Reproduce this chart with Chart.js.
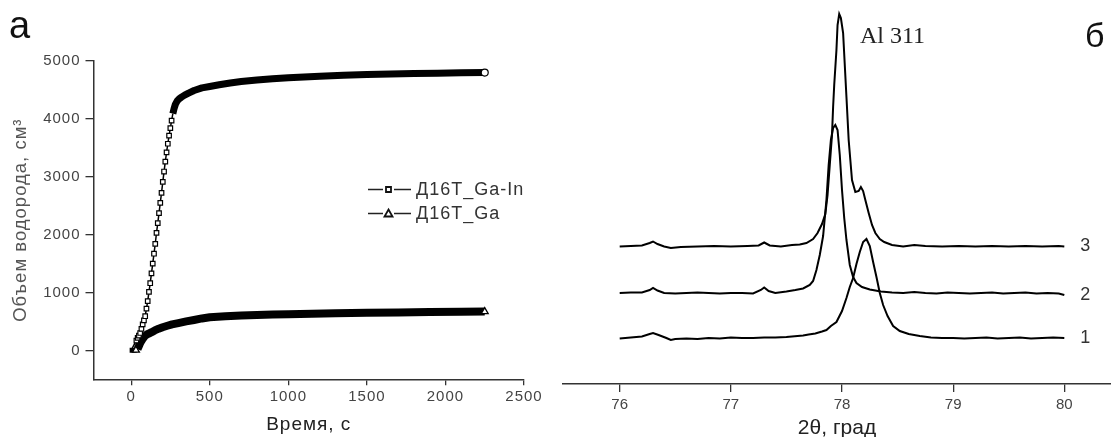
<!DOCTYPE html>
<html><head><meta charset="utf-8">
<script src="https://cdn.jsdelivr.net/npm/chart.js@4.4.1/dist/chart.umd.min.js"></script>
<style>
html,body{margin:0;padding:0;background:#fff;overflow:hidden}
#wrap{position:relative;width:1111px;height:437px;background:#fff}
#c1{position:absolute;left:0;top:0}
#c2{position:absolute;left:555px;top:0}
</style></head>
<body><div id="wrap"><canvas id="c1" width="555" height="437"></canvas><canvas id="c2" width="556" height="437"></canvas></div>
<script>
// ---------- Panel а : hydrogen volume vs time ----------
const seriesNames = ['Д16Т_Ga-In', 'Д16Т_Ga'];
const timeGaIn = [0, 8, 16, 25, 33, 41, 49, 57, 65, 73, 81, 89, 97, 105, 113, 121, 129, 137, 145, 153, 161, 169, 177, 185, 193, 201, 209, 217, 225, 233, 241, 249, 257, 265, 273, 281, 293, 305, 320, 340, 365, 400, 450, 500, 560, 630, 700, 800, 900, 1000, 1100, 1200, 1350, 1500, 1650, 1800, 1950, 2100, 2250];
const volGaIn  = [0, 45, 85, 130, 170, 215, 255, 300, 370, 450, 520, 590, 720, 850, 1010, 1160, 1330, 1500, 1670, 1840, 2030, 2200, 2370, 2550, 2720, 2910, 3090, 3260, 3420, 3570, 3710, 3840, 3970, 4090, 4180, 4250, 4310, 4345, 4375, 4410, 4445, 4490, 4535, 4560, 4590, 4620, 4645, 4670, 4692, 4710, 4725, 4738, 4752, 4765, 4775, 4783, 4790, 4796, 4800];
const timeGa = [-10, 0, 10, 20, 30, 40, 48, 56, 64, 72, 80, 90, 100, 115, 130, 150, 175, 200, 230, 260, 300, 350, 400, 450, 500, 600, 700, 800, 900, 1000, 1150, 1300, 1500, 1700, 1900, 2100, 2250];
const volGa  = [0, 0, 0, 0, 5, 20, 70, 120, 160, 195, 225, 255, 275, 295, 315, 345, 375, 400, 425, 448, 470, 500, 525, 552, 572, 590, 603, 613, 620, 626, 633, 640, 648, 655, 661, 666, 670];
const timeTicks = [0, 500, 1000, 1500, 2000, 2500];
const volTicks = [0, 1000, 2000, 3000, 4000, 5000];
const panelLabels = ['а', 'б'];

// ---------- Panel б : XRD patterns around Al 311 ----------
const peakLabel = 'Al 311';
const curveLabels = ['1', '2', '3'];
const angleTicks = [76, 77, 78, 79, 80];
const angle1 = [76.00,76.10,76.20,76.27,76.30,76.35,76.42,76.46,76.50,76.60,76.70,76.80,76.90,77.00,77.10,77.20,77.30,77.40,77.50,77.60,77.65,77.70,77.76,77.82,77.86,77.90,77.95,78.00,78.04,78.07,78.10,78.13,78.16,78.19,78.22,78.25,78.28,78.31,78.34,78.37,78.41,78.46,78.52,78.60,78.70,78.80,78.90,79.00,79.10,79.20,79.30,79.40,79.50,79.60,79.70,79.80,79.90,80.00];
const int1   = [45.5,46.5,47.5,50,51,49,46,44,45,45.5,45,46,45.5,46.5,46,46,46.5,46.5,47,48,48.5,49.5,50.5,52.5,54,58,62,73,86,97,106,120,132,142,145,138,122,107,91,79,68,58,53,50,48,46.5,46,46,45.5,46,46.5,45.5,46,46.5,45.5,46,46.5,46];
const angle2 = [76.00,76.10,76.20,76.27,76.30,76.34,76.40,76.50,76.60,76.70,76.80,76.90,77.00,77.10,77.20,77.27,77.30,77.34,77.40,77.50,77.58,77.65,77.71,77.74,77.77,77.80,77.83,77.86,77.88,77.90,77.92,77.94,77.96,77.98,78.00,78.02,78.04,78.07,78.10,78.13,78.18,78.25,78.35,78.45,78.55,78.65,78.75,78.85,78.95,79.05,79.15,79.25,79.35,79.45,79.55,79.65,79.75,79.85,79.95,80.00];
const int2   = [91,91.5,91.5,94,96,93.5,91,90.5,91,91.5,91,90.5,91,91,90.5,94,96.5,93,91,92.5,94,95.5,99,103,114,129,148,184,219,244,256,259,254,229,194,166,144,119,107,101,97,94.5,92.5,91.5,91,92,91,90.5,91.5,91,90.5,91,91.5,90.5,91,91.5,90.5,91,90.5,89];
const angle3 = [76.00,76.10,76.20,76.27,76.30,76.34,76.40,76.46,76.55,76.70,76.85,77.00,77.15,77.25,77.30,77.35,77.45,77.55,77.62,77.68,77.74,77.78,77.82,77.85,77.87,77.89,77.91,77.92,77.93,77.95,77.96,77.975,77.99,78.01,78.04,78.06,78.09,78.12,78.15,78.17,78.19,78.21,78.24,78.27,78.30,78.34,78.38,78.45,78.55,78.65,78.75,78.90,79.05,79.20,79.35,79.50,79.65,79.80,79.95,80.00];
const int3   = [137.5,138,138.5,141,142.5,140,137.5,136,137,137.5,138,137.5,138,138.5,141.5,138.5,137.5,139,139.5,141,145,151,160,170,189,219,249,277,299,334,359,370,366,351,287,244,204,192,193,197,193,184,171,159,151,145,142,139,137.5,139,138,137.5,138,137.5,138,137.5,138,137.5,138,137.5];

const FONT = "'Liberation Sans', Arial, Helvetica, sans-serif";
const SERIF = "'Liberation Serif', 'Times New Roman', serif";
const pairs = (xs, ys) => xs.map((x, i) => ({x: x, y: ys[i]}));

// ---------- decorations for panel а ----------
const leftDecor = {
  id: 'leftDecor',
  beforeDraw(chart) { chart.ctx.letterSpacing = '1px'; },
  afterDraw(chart) {
    const ctx = chart.ctx;
    ctx.save();
    ctx.letterSpacing = '0px';
    ctx.fillStyle = '#111';
    ctx.font = '38px ' + FONT;
    ctx.textBaseline = 'alphabetic';
    ctx.textAlign = 'left';
    ctx.fillText(panelLabels[0], 9, 38);
    chart.data.datasets.forEach((ds, i) => {
      const y = 189.5 + i * 24;
      ctx.strokeStyle = '#222';
      ctx.lineWidth = 1.5;
      ctx.beginPath();
      ctx.moveTo(368, y); ctx.lineTo(383, y);
      ctx.moveTo(394, y); ctx.lineTo(411, y);
      ctx.stroke();
      ctx.fillStyle = '#fff';
      ctx.strokeStyle = '#111';
      ctx.lineWidth = 1.8;
      ctx.beginPath();
      if (i === 0) {
        ctx.rect(386, y - 2.5, 5, 5);
      } else {
        ctx.moveTo(388.5, y - 4); ctx.lineTo(392.5, y + 3); ctx.lineTo(384.5, y + 3); ctx.closePath();
      }
      ctx.fill(); ctx.stroke();
      ctx.letterSpacing = '1px';
      ctx.fillStyle = '#333';
      ctx.font = '18px ' + FONT;
      ctx.textBaseline = 'middle';
      ctx.fillText(ds.label, 416, y + 0.5);
      ctx.letterSpacing = '0px';
    });
    ctx.restore();
    ctx.letterSpacing = '0px';
  }
};

const lastIn = timeGaIn.length - 1;
const lastGa = timeGa.length - 1;

new Chart(document.getElementById('c1'), {
  type: 'line',
  data: {
    datasets: [
      {
        label: seriesNames[0],
        data: pairs(timeGaIn, volGaIn),
        borderColor: '#000',
        borderWidth: 1.5,
        borderJoinStyle: 'round',
        segment: { borderWidth: c => (c.p0.parsed.x >= 265 ? 7 : 1.5) },
        tension: 0,
        pointStyle: c => (c.dataIndex === lastIn ? 'circle' : 'rect'),
        pointRadius: c => {
          if (c.dataIndex === lastIn) return 3.5;
          const t = timeGaIn[c.dataIndex];
          return (t >= 33 && t <= 257) ? 3.2 : 0;
        },
        pointBackgroundColor: '#fff',
        pointBorderColor: '#000',
        pointBorderWidth: 1.2
      },
      {
        label: seriesNames[1],
        data: pairs(timeGa, volGa),
        borderColor: '#000',
        borderWidth: 8,
        borderJoinStyle: 'round',
        segment: { borderWidth: c => (c.p0.parsed.x < 35 ? 5 : 8) },
        tension: 0,
        pointStyle: 'triangle',
        pointRadius: c => ((c.dataIndex === lastGa || c.dataIndex === 4) ? 4 : 0),
        pointBackgroundColor: '#fff',
        pointBorderColor: '#000',
        pointBorderWidth: 1.3
      }
    ]
  },
  options: {
    responsive: false,
    animation: false,
    events: [],
    layout: { padding: { left: 0, right: 31, top: 61, bottom: 0 } },
    plugins: { legend: { display: false }, tooltip: { enabled: false } },
    scales: {
      x: {
        type: 'linear', min: -240, max: 2500,
        afterBuildTicks: s => { s.ticks = timeTicks.map(v => ({ value: v })); },
        afterFit: s => { s.height = 57.7; },
        grid: { display: true, drawOnChartArea: false, drawTicks: true, tickLength: 6, color: '#333', lineWidth: 1.3 },
        border: { display: true, color: '#333', width: 1.5 },
        ticks: { color: '#444', font: { family: FONT, size: 15 }, padding: 3, maxRotation: 0, autoSkip: false, callback: v => String(v) },
        title: { display: true, text: 'Время, с', color: '#222', font: { family: FONT, size: 19 }, padding: { top: 0, bottom: 1 } }
      },
      y: {
        type: 'linear', min: -500, max: 5000,
        afterBuildTicks: s => { s.ticks = volTicks.map(v => ({ value: v })); },
        afterFit: s => { s.width = 93.5; },
        grid: { display: true, drawOnChartArea: false, drawTicks: true, tickLength: 8, color: '#333', lineWidth: 1.3 },
        border: { display: true, color: '#333', width: 1.5 },
        ticks: { color: '#444', font: { family: FONT, size: 15 }, padding: 5, autoSkip: false, callback: v => String(v) },
        title: { display: true, text: 'Объем водорода, см³', color: '#555', font: { family: FONT, size: 18.5 }, padding: { top: 10, bottom: 0 } }
      }
    }
  },
  plugins: [leftDecor]
});

// ---------- decorations for panel б ----------
const curves = [int1, int2, int3];
const rightDecor = {
  id: 'rightDecor',
  afterDraw(chart) {
    const ctx = chart.ctx;
    const xs = chart.scales.x, ys = chart.scales.y;
    ctx.save();
    ctx.textAlign = 'left';
    ctx.textBaseline = 'alphabetic';
    ctx.fillStyle = '#222';
    ctx.font = '24px ' + SERIF;
    ctx.fillText(peakLabel, 305, 43);
    ctx.fillStyle = '#111';
    ctx.font = '34px ' + FONT;
    ctx.fillText(panelLabels[1], 530, 47);
    ctx.fillStyle = '#333';
    ctx.font = '18px ' + FONT;
    ctx.textBaseline = 'middle';
    curves.forEach((arr, i) => {
      ctx.fillText(curveLabels[i], xs.getPixelForValue(angleTicks[angleTicks.length - 1]) + 16, ys.getPixelForValue(arr[arr.length - 1]));
    });
    ctx.restore();
  }
};

const lineStyle = { borderColor: '#000', borderWidth: 2, pointRadius: 0, tension: 0, borderJoinStyle: 'miter' };

new Chart(document.getElementById('c2'), {
  type: 'line',
  data: {
    datasets: [
      Object.assign({ label: curveLabels[0], data: pairs(angle1, int1) }, lineStyle),
      Object.assign({ label: curveLabels[1], data: pairs(angle2, int2) }, lineStyle),
      Object.assign({ label: curveLabels[2], data: pairs(angle3, int3) }, lineStyle)
    ]
  },
  options: {
    responsive: false,
    animation: false,
    events: [],
    layout: { padding: { left: 8, right: 0, top: 0, bottom: 0 } },
    plugins: { legend: { display: false }, tooltip: { enabled: false } },
    scales: {
      x: {
        type: 'linear', min: 75.49, max: 80.42,
        afterBuildTicks: s => { s.ticks = angleTicks.map(v => ({ value: v })); },
        afterFit: s => { s.height = 53; },
        grid: { display: true, drawOnChartArea: false, drawTicks: true, tickLength: 8, color: '#333', lineWidth: 1.3 },
        border: { display: true, color: '#333', width: 1.5 },
        ticks: { color: '#444', font: { family: FONT, size: 15 }, padding: 4, maxRotation: 0, autoSkip: false, callback: v => String(v) },
        title: { display: true, text: '2θ, град', color: '#222', font: { family: FONT, size: 21, lineHeight: 1 }, padding: { top: 0, bottom: -2 } }
      },
      y: { type: 'linear', display: false, min: 0, max: 384 }
    }
  },
  plugins: [rightDecor]
});
</script>
</body></html>
